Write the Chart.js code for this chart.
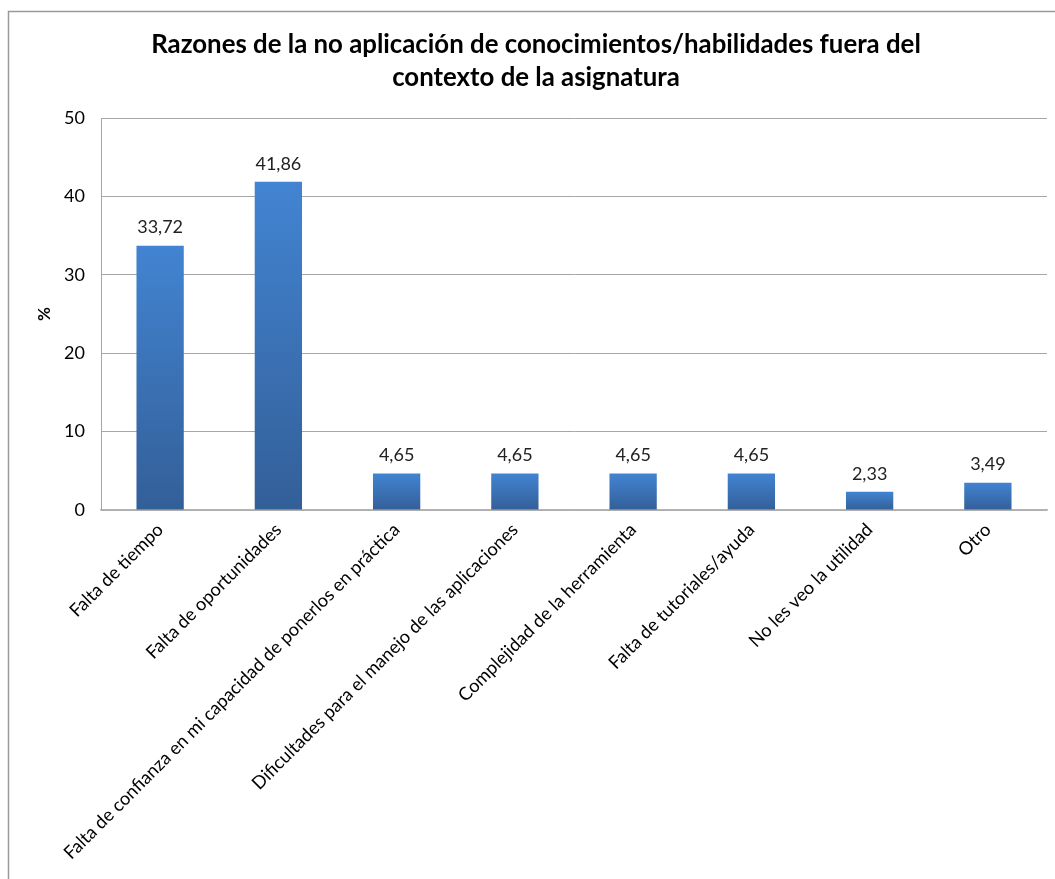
<!DOCTYPE html>
<html>
<head>
<meta charset="utf-8">
<script src="https://cdn.jsdelivr.net/npm/chart.js@4.4.0/dist/chart.umd.min.js"></script>
<style>
  html, body { margin: 0; padding: 0; background: #fff; }
  #wrap { width: 1055px; height: 879px; }
</style>
</head>
<body>
<div id="wrap"><canvas id="myChart" width="1055" height="879"></canvas></div>
<script>
// Chart data
let categories = [
    'Falta de tiempo',
    'Falta de oportunidades',
    'Falta de confianza en mi capacidad de ponerlos en práctica',
    'Dificultades para el manejo de las aplicaciones',
    'Complejidad de la herramienta',
    'Falta de tutoriales/ayuda',
    'No les veo la utilidad',
    'Otro'
];
let percentages = [33.72, 41.86, 4.65, 4.65, 4.65, 4.65, 2.33, 3.49];
let yTicks = [0, 10, 20, 30, 40, 50];

let fontFamily = 'Lato, "Liberation Sans", sans-serif';
Chart.defaults.font.family = fontFamily;
Chart.defaults.color = '#000';

// gradient for each bar, light on top and dark at the bottom
function barGradient(context) {
    let chart = context.chart;
    let yScale = chart.scales.y;
    if (!chart.chartArea || !yScale) {
        return '#3b73b9';
    }
    let top = yScale.getPixelForValue(context.raw);
    let bottom = yScale.getPixelForValue(0);
    let g = chart.ctx.createLinearGradient(0, top, 0, bottom);
    g.addColorStop(0, '#4284d2');
    g.addColorStop(1, '#335f98');
    return g;
}

// outer frame like the spreadsheet chart border
let framePlugin = {
    id: 'frame',
    beforeDraw(chart) {
        let ctx = chart.ctx;
        ctx.save();
        ctx.strokeStyle = '#9a9a9a';
        ctx.lineWidth = 1.5;
        ctx.beginPath();
        ctx.moveTo(8.5, chart.height);
        ctx.lineTo(8.5, 11.5);
        ctx.lineTo(chart.width, 11.5);
        ctx.stroke();
        ctx.restore();
    }
};

// value labels above the bars
let valueLabels = {
    id: 'valueLabels',
    afterDatasetsDraw(chart) {
        let ctx = chart.ctx;
        let meta = chart.getDatasetMeta(0);
        ctx.save();
        ctx.font = '18px ' + fontFamily;
        ctx.fillStyle = '#222';
        ctx.textAlign = 'center';
        ctx.textBaseline = 'bottom';
        meta.data.forEach(function(bar, i) {
            let text = percentages[i].toFixed(2).replace('.', ',');
            ctx.fillText(text, bar.x, bar.y - 9);
        });
        ctx.restore();
    }
};

let canvas = document.getElementById('myChart').getContext('2d');

let myChart = new Chart(canvas, {
    type: 'bar',
    data: {
        labels: categories,
        datasets: [{
            data: percentages,
            backgroundColor: barGradient,
            categoryPercentage: 1.0,
            barPercentage: 0.4
        }]
    },
    options: {
        responsive: false,
        animation: false,
        layout: {
            padding: { top: 0, right: 8, bottom: 0, left: 25 }
        },
        plugins: {
            legend: { display: false },
            tooltip: { enabled: false },
            title: {
                display: true,
                text: [
                    'Razones de la no aplicación de conocimientos/habilidades fuera del',
                    'contexto de la asignatura'
                ],
                color: '#000',
                font: { size: 25.8, weight: 'bold', lineHeight: 1.28 },
                padding: { top: 28, bottom: 24 }
            }
        },
        scales: {
            x: {
                grid: { display: false, drawTicks: false },
                border: { color: '#b5b5b5', width: 1.5 },
                ticks: {
                    autoSkip: false,
                    minRotation: 45,
                    maxRotation: 45,
                    padding: 9,
                    font: { size: 18.2 },
                    color: '#000'
                },
                afterFit: function(scale) {
                    scale.height = 369;
                }
            },
            y: {
                min: 0,
                max: 50,
                afterBuildTicks: function(scale) {
                    scale.ticks = yTicks.map(v => ({ value: v }));
                },
                grid: { color: '#a6a6a6', drawTicks: false },
                border: { color: '#a6a6a6' },
                ticks: {
                    padding: 16,
                    font: { size: 18 },
                    color: '#000'
                },
                title: {
                    display: true,
                    text: '%',
                    color: '#000',
                    font: { size: 17, weight: 'bold' },
                    padding: { top: 9, bottom: 0 }
                },
                afterFit: function(scale) {
                    scale.width = 76;
                }
            }
        }
    },
    plugins: [framePlugin, valueLabels]
});
</script>
</body>
</html>
